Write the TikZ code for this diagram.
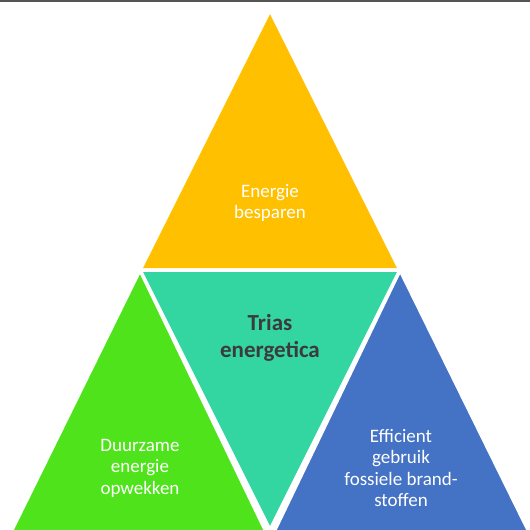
\documentclass[tikz,border=0pt]{standalone}
\usepackage{fontspec}
\setmainfont{Carlito}
\definecolor{besparen}{HTML}{FFC000}
\definecolor{duurzaam}{HTML}{4FE31B}
\definecolor{trias}{HTML}{33D6A1}
\definecolor{fossiel}{HTML}{4472C4}
\definecolor{triastext}{HTML}{3B3B3B}
\definecolor{rand}{HTML}{555555}

\begin{document}
\begin{tikzpicture}[x=1pt,y=-1pt,
    vlak/.style={draw=white,line width=3.5pt,line join=miter},
    label/.style={text=white,align=center,font=\fontsize{19}{21.5}\selectfont}]
    \useasboundingbox (0,0) rectangle (530,530);
    \clip (0,0) rectangle (530,530);
    \coordinate (top) at (270,10);
    \coordinate (links) at (140,270);
    \coordinate (rechts) at (400,270);
    \coordinate (onder) at (270,530);
    \coordinate (linksonder) at (7,540);
    \coordinate (rechtsonder) at (533,540);
    % vlakken
    \fill[besparen,vlak] (top) -- (rechts) -- (links) -- cycle;
    \fill[duurzaam,vlak] (links) -- ([yshift=-10]onder) -- (linksonder) -- cycle;
    \fill[fossiel,vlak] (rechts) -- (rechtsonder) -- ([yshift=-10]onder) -- cycle;
    \fill[trias,vlak] (links) -- (rechts) -- (onder) -- cycle;
    \draw[rand,line width=2pt] (0,1) -- (530,1);
    % teksten
    \node[label] (bes) at (270,203) {Energie\\besparen};
    \node[label,text=triastext,font=\fontsize{23}{26.5}\selectfont\bfseries] (tri) at (270,338) {Trias\\energetica};
    \node[label] (duu) at (140,468) {Duurzame\\energie\\opwekken};
    \node[label] (eff) at (401,468) {Efficient\\gebruik\\fossiele brand-\\stoffen};
\end{tikzpicture}
\end{document}
